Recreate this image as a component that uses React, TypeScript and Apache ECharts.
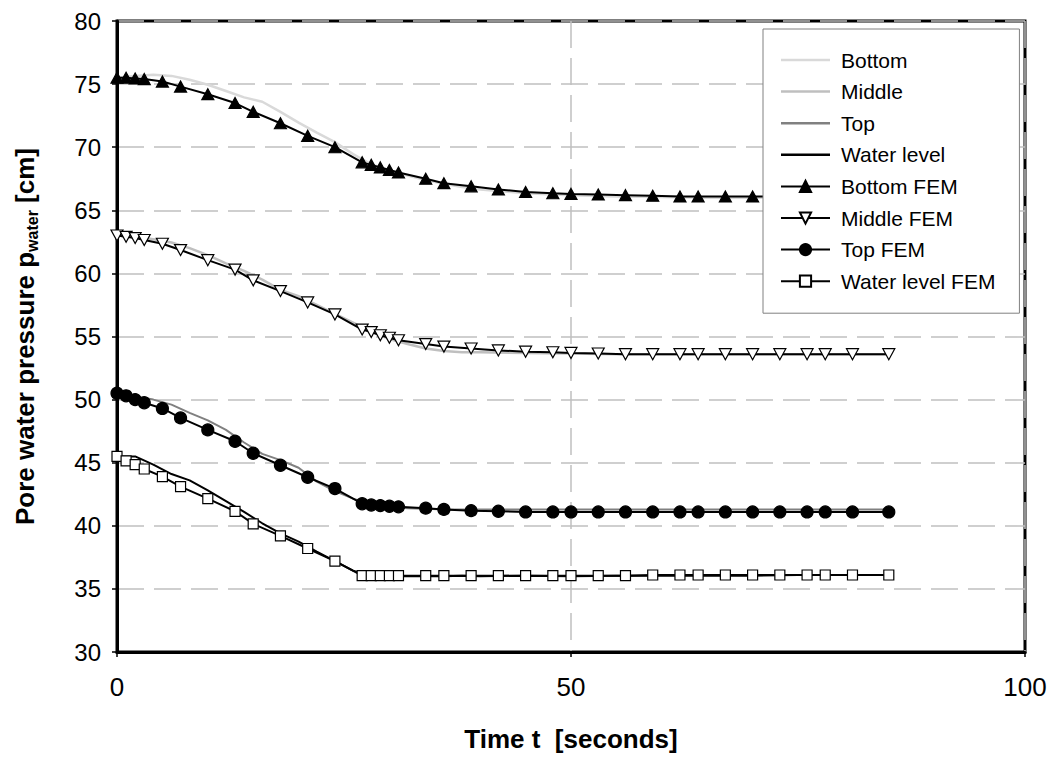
import React, { useEffect, useRef } from "react";
import * as echarts from "echarts";

const femTimes = [0, 1, 2, 3, 5, 7, 10, 13, 15, 18, 21, 24, 27, 28, 29, 30, 31, 34, 36, 39, 42, 45, 48, 50, 53, 56, 59, 62, 64, 67, 70, 73, 76, 78, 81, 85];
const bottomFem = [75.5, 75.5, 75.45, 75.4, 75.2, 74.8, 74.2, 73.5, 72.8, 71.9, 70.9, 70.0, 68.8, 68.6, 68.4, 68.2, 68.0, 67.5, 67.15, 66.9, 66.65, 66.45, 66.35, 66.3, 66.25, 66.2, 66.15, 66.1, 66.1, 66.1, 66.1, 66.1, 66.1, 66.1, 66.1, 66.1];
const middleFem = [63.0, 62.9, 62.8, 62.65, 62.35, 61.85, 61.05, 60.3, 59.45, 58.6, 57.7, 56.75, 55.55, 55.35, 55.1, 54.9, 54.7, 54.4, 54.2, 54.05, 53.9, 53.8, 53.75, 53.7, 53.65, 53.6, 53.6, 53.6, 53.6, 53.6, 53.6, 53.6, 53.6, 53.6, 53.6, 53.6];
const topFem = [50.5, 50.3, 50.0, 49.75, 49.3, 48.55, 47.6, 46.7, 45.75, 44.8, 43.85, 42.95, 41.75, 41.65, 41.6, 41.55, 41.5, 41.4, 41.3, 41.2, 41.15, 41.1, 41.1, 41.1, 41.1, 41.1, 41.1, 41.1, 41.1, 41.1, 41.1, 41.1, 41.1, 41.1, 41.1, 41.1];
const waterFem = [45.5, 45.15, 44.85, 44.5, 43.9, 43.1, 42.15, 41.15, 40.15, 39.2, 38.2, 37.2, 36.05, 36.05, 36.05, 36.05, 36.05, 36.05, 36.05, 36.05, 36.05, 36.05, 36.05, 36.05, 36.05, 36.05, 36.1, 36.1, 36.1, 36.1, 36.1, 36.1, 36.1, 36.1, 36.1, 36.1];

const measTimes = [0, 2, 4, 6, 8, 10, 12, 14, 16, 18, 20, 22, 24, 26, 28, 30, 32, 34, 36, 38, 40, 45, 50, 55, 60, 65, 70, 75, 80, 85];
const bottomMeas = [75.5, 75.65, 75.75, 75.65, 75.35, 74.95, 74.45, 73.95, 73.6, 72.8, 71.95, 71.15, 70.4, 69.45, 68.65, 68.15, 67.75, 67.4, 67.1, 66.85, 66.65, 66.35, 66.2, 66.1, 66.05, 66.0, 66.0, 66.0, 66.0, 66.0];
const middleMeas = [63.0, 62.9, 62.7, 62.45, 62.0, 61.45, 60.8, 60.2, 59.5, 58.7, 58.2, 57.5, 56.8, 56.1, 55.4, 54.8, 54.4, 54.05, 53.85, 53.75, 53.75, 53.7, 53.65, 53.6, 53.6, 53.6, 53.6, 53.6, 53.6, 53.6];
const topMeas = [50.5, 50.25, 50.0, 49.6, 48.95, 48.35, 47.6, 46.6, 45.7, 45.2, 44.6, 43.5, 42.75, 42.15, 41.7, 41.5, 41.4, 41.35, 41.3, 41.3, 41.3, 41.3, 41.3, 41.3, 41.3, 41.3, 41.3, 41.3, 41.3, 41.3];
const waterMeas = [45.5, 45.5, 44.85, 44.1, 43.6, 42.8, 41.95, 41.1, 40.2, 39.4, 38.75, 37.95, 37.2, 36.45, 36.0, 36.0, 36.0, 36.0, 36.0, 36.05, 36.0, 36.05, 36.0, 36.05, 36.05, 36.05, 36.05, 36.1, 36.1, 36.1];

const measNames = ["Bottom", "Middle", "Top", "Water level"];
const femNames = ["Bottom FEM", "Middle FEM", "Top FEM", "Water level FEM"];

const yTicks = { min: 30, max: 80, interval: 5 };
const xTicks = { min: 0, max: 100, interval: 50 };

const FONT = "'Liberation Sans', Arial, sans-serif";

const pairs = (xs: number[], ys: number[]) => xs.map((x, i) => [x, ys[i]]);

export default function App() {
  const ref = useRef<HTMLDivElement>(null);
  useEffect(() => {
    if (!ref.current) return;
    const chart = echarts.init(ref.current, null, { renderer: "svg" });
    const measLine = (name: string, data: number[], color: string, width: number) => ({
      name,
      type: "line",
      data: pairs(measTimes, data),
      symbol: "none",
      showSymbol: false,
      lineStyle: { color, width },
      itemStyle: { color },
      z: 2,
    });
    const femLine = (name: string, data: number[], symbol: string, size: any, fill: string, rotate = 0) => ({
      name,
      type: "line",
      data: pairs(femTimes, data),
      symbol,
      symbolSize: size,
      symbolRotate: rotate,
      showAllSymbol: true,
      lineStyle: { color: "#000", width: 2 },
      itemStyle: { color: fill, borderColor: "#000", borderWidth: 1.2 },
      z: 3,
    });
    chart.setOption({
      animation: false,
      backgroundColor: "#fff",
      textStyle: { fontFamily: FONT },
      grid: {
        left: 117,
        right: 29,
        top: 21,
        bottom: 106,
        show: true,
        borderColor: "#000",
        borderWidth: 3,
        backgroundColor: "transparent",
      },
      legend: {
        orient: "vertical",
        left: 763,
        top: 29,
        backgroundColor: "#fff",
        borderColor: "#808080",
        borderWidth: 1,
        padding: [20, 24, 21, 17],
        itemWidth: 49,
        itemHeight: 14,
        itemGap: 9.6,
        textStyle: { fontSize: 21, color: "#000", fontFamily: FONT, lineHeight: 22, padding: [0, 0, 0, 6] },
        data: [
          ...measNames.map((n) => ({ name: n, icon: "path://M0,0h49v2.5h-49z" })),
          ...femNames,
        ],
      },
      xAxis: {
        type: "value",
        min: xTicks.min,
        max: xTicks.max,
        interval: xTicks.interval,
        name: "Time t  [seconds]",
        nameLocation: "middle",
        nameGap: 74,
        nameTextStyle: { fontSize: 26, fontWeight: "bold", color: "#000", fontFamily: FONT },
        axisLine: { lineStyle: { color: "#000", width: 3 } },
        axisTick: { show: true, length: 5, lineStyle: { color: "#000", width: 1.5 } },
        axisLabel: { fontSize: 26, color: "#000", margin: 22, fontFamily: FONT },
        splitLine: { show: true, lineStyle: { color: "#c0c0c0", width: 1.5, type: [27, 10] } },
      },
      yAxis: {
        type: "value",
        min: yTicks.min,
        max: yTicks.max,
        interval: yTicks.interval,
        name: "{a|Pore water pressure p}{b|water}{a| [cm]}",
        nameLocation: "middle",
        nameRotate: 90,
        nameGap: 77,
        nameTextStyle: {
          color: "#000",
          rich: {
            a: { fontSize: 26, fontWeight: "bold", color: "#000", fontFamily: FONT, lineHeight: 30 },
            b: { fontSize: 16, fontWeight: "bold", color: "#000", fontFamily: FONT, lineHeight: 15, verticalAlign: "bottom" },
          },
        },
        axisLine: { show: true, lineStyle: { color: "#000", width: 3 } },
        axisTick: { show: true, length: 5, lineStyle: { color: "#000", width: 1.5 } },
        axisLabel: { fontSize: 24, color: "#000", margin: 16, fontFamily: FONT },
        splitLine: { show: true, lineStyle: { color: "#c0c0c0", width: 1.5, type: [27, 10] } },
      },
      series: [
        measLine(measNames[0], bottomMeas, "#d9d9d9", 2.5),
        measLine(measNames[1], middleMeas, "#bfbfbf", 2.5),
        measLine(measNames[2], topMeas, "#808080", 2),
        measLine(measNames[3], waterMeas, "#000", 2),
        femLine(femNames[0], bottomFem, "triangle", [12, 11], "#000"),
        femLine(femNames[1], middleFem, "triangle", [12, 11], "#fff", 180),
        femLine(femNames[2], topFem, "circle", 12, "#000"),
        femLine(femNames[3], waterFem, "rect", 10, "#fff"),
      ],
    });
    return () => chart.dispose();
  }, []);
  return (
    <div
      ref={ref}
      style={{ position: "fixed", left: 0, top: 0, width: 1054, height: 758, background: "#fff" }}
    />
  );
}
